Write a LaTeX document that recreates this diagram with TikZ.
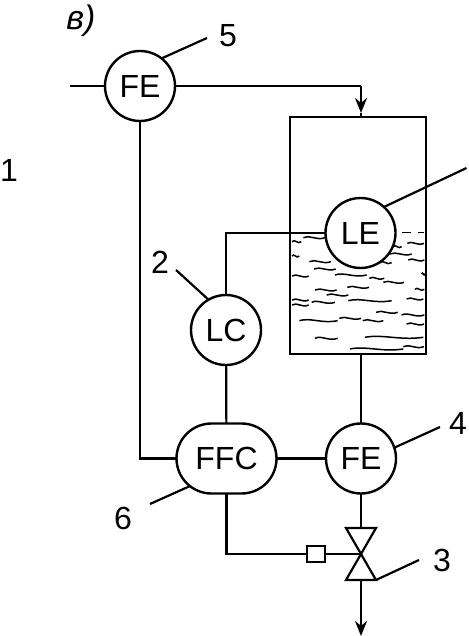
\documentclass[tikz,border=0pt]{standalone}
\usepackage{fontspec}
\setmainfont{Liberation Sans}
\usetikzlibrary{shapes.misc,arrows.meta}
\tikzset{
  inst/.style={circle,draw,fill=white,line width=2.4pt,minimum size=70pt,inner sep=0pt,outer sep=0pt,font=\fontsize{32}{32}\selectfont},
  ctrl/.style={rounded rectangle,draw,fill=white,line width=2.4pt,minimum width=100pt,minimum height=70pt,inner sep=0pt,outer sep=0pt,font=\fontsize{32}{32}\selectfont},
  lbl/.style={inner sep=0pt,font=\fontsize{32}{32}\selectfont},
  conn/.style={line width=2.2pt},
  wave/.style={line width=1.5pt},
  vessel/.style={rectangle,draw,line width=2.8pt,minimum width=136pt,minimum height=237pt,inner sep=0pt,outer sep=0pt},
  tip/.style={-{Stealth[length=15pt,width=12pt]}}
}
\begin{document}
\begin{tikzpicture}[x=1pt,y=-1pt]
\useasboundingbox (0,0) rectangle (468,636);
% vessel and liquid
\node[vessel] (tank) at (358,235.5) {};
\begin{scope}[shift={(270,100)},x=0.3333pt,y=-0.3333pt]
\foreach \x/\y/\l in {66/425/28,100/413/65,412/430/50,370/440/25,360/462/65,66/468/22,118/485/65,415/480/48,132/507/65,330/488/35,66/528/50,195/525/95,298/535/45,340/547/62,455/522/10,135/570/65,232/562/65,170/585/65,435/568/28,66/600/50,66/615/50,125/607/70,235/602/130,410/597/50,318/637/65,395/645/68,88/662/115,208/655/65,278/662/62,410/672/52,135/715/68,285/712/175,240/747/160,400/740/62}
  \draw[wave] (\x,\y) .. controls (\x+0.3*\l,\y-10) and (\x+0.6*\l,\y+10) .. (\x+\l,\y);
\draw[wave] (395,398) -- (423,398);
\draw[wave] (445,398) -- (463,398);
\end{scope}
% instruments
\node[inst] (fea) at (140,86) {FE};
\node[inst] (le) at (360.5,233) {LE};
\node[inst] (lc) at (226,330) {LC};
\node[ctrl] (ffc) at (226.5,458.5) {FFC};
\node[inst] (feb) at (361,458.5) {FE};
\node[rectangle,draw,line width=2.2pt,minimum width=18pt,minimum height=16pt,inner sep=0pt,outer sep=0pt] (act) at (316,554) {};
% valve
\coordinate (vc) at (361,554);
\coordinate (vt) at (361,528);
\coordinate (vb) at (361,580);
\draw[conn,line join=miter] (vc) -- (346,528) -- (376,528) -- cycle;
\draw[conn,line join=miter] (vc) -- (346,580) -- (376,580) -- cycle;
% free ends
\coordinate (inlet) at (70,86);
\coordinate (drop) at (361,86);
\coordinate (droptip) at (361,113);
\coordinate (outlet) at (361,636);
% connectors
\draw[conn] (inlet) -- (fea);
\draw[conn] (fea) -- (drop);
\draw[conn,tip] (drop) -- (droptip);
\draw[conn] (droptip) -- (tank.north -| droptip);
\draw[conn] (fea) -- (fea |- ffc) -- (ffc);
\draw[conn] (le) -- (le -| lc) -- (lc);
\draw[conn] (lc) -- (ffc);
\draw[conn] (ffc.east) -- (feb.west);
\draw[conn] (tank.south -| feb) -- (feb);
\draw[conn] (feb) -- (vt);
\draw[conn] (ffc.south) -- (ffc.south |- act) -- (act);
\draw[conn] (act) -- (vc);
\draw[conn,tip] (vb) -- (outlet);
% leaders
\coordinate (l5) at (207,38);
\coordinate (l1) at (466.5,168);
\coordinate (l2) at (176,270);
\coordinate (l4) at (440,427);
\coordinate (l3) at (419,560);
\coordinate (l6) at (150,504);
\draw[conn] (fea.52) -- (l5);
\draw[conn] (le.48) -- (l1);
\draw[conn] (lc.120) -- (l2);
\draw[conn] (feb.18) -- (l4);
\draw[conn] (376,580) -- (l3);
\draw[conn] (ffc.217) -- (l6);
% labels
\node[lbl] (t5) at (228,36) {5};
\node[lbl] (t1) at (9,170) {1};
\node[lbl] (t2) at (160,262) {2};
\node[lbl] (t4) at (458,423) {4};
\node[lbl] (t3) at (442,560) {3};
\node[lbl] (t6) at (123,518) {6};
\node[lbl,font=\fontsize{34}{34}\selectfont\itshape] (tv) at (81,21) {в)};
\end{tikzpicture}
\end{document}
